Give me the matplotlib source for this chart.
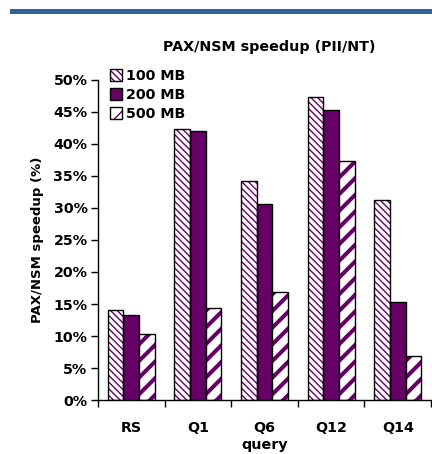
import matplotlib
matplotlib.use("Agg")
import matplotlib.pyplot as plt
import numpy as np
from matplotlib.patches import Rectangle, Patch

plt.rcParams['font.family'] = ['DejaVu Sans']
plt.rcParams['font.weight'] = 'bold'

categories = ["RS", "Q1", "Q6", "Q12", "Q14"]
series_names = ["100 MB", "200 MB", "500 MB"]
v100 = [14.0, 42.3, 34.2, 47.3, 31.3]
v200 = [13.3, 42.0, 30.6, 45.3, 15.3]
v500 = [10.3, 14.4, 16.9, 37.3, 6.9]
yticks = [0, 5, 10, 15, 20, 25, 30, 35, 40, 45, 50]
ytick_labels = [f"{t}%" for t in yticks]

purple = "#660066"
FS = 10.3
H100 = '\\' * 5
H500 = '//'
LW100 = 1.0
LW500 = 2.9

fig = plt.figure(figsize=(4.32, 4.54), dpi=100)
# blue header bar
fig.patches.append(Rectangle((10/432, 1-14/454), 422/432, 5/454, transform=fig.transFigure,
                             facecolor="#2e6699", edgecolor="none"))

ax = fig.add_axes([98/432, 1-400/454, 333/432, 320/454])
x = np.arange(len(categories))
w = 0.235
offsets = [-w, 0, w]
values = [v100, v200, v500]
hatches = [H100, None, H500]
hlw = [LW100, None, LW500]

for i, (vals, off) in enumerate(zip(values, offsets)):
    if hatches[i] is None:
        ax.bar(x + off, vals, w, color=purple, edgecolor='black', linewidth=1.0, zorder=2)
    else:
        with plt.rc_context({'hatch.linewidth': hlw[i]}):
            bars = ax.bar(x + off, vals, w, color='white', edgecolor=purple, hatch=hatches[i],
                          linewidth=0, zorder=2)
            for b in bars:
                if hasattr(b, 'set_hatch_linewidth'):
                    b.set_hatch_linewidth(hlw[i])
        ax.bar(x + off, vals, w, color='none', edgecolor='black', linewidth=1.0, zorder=3)

ax.set_xlim(-0.5, len(categories) - 0.5)
ax.set_ylim(0, 50)
ax.set_yticks(yticks)
ax.set_yticklabels(ytick_labels, fontsize=FS, fontweight='bold')
ax.set_xticks(np.arange(len(categories) + 1) - 0.5)
ax.set_xticklabels([])
ax.set_xticks(x, minor=True)
ax.set_xticklabels(categories, minor=True, fontsize=FS, fontweight='bold')
ax.tick_params(axis='x', which='minor', length=0, pad=15)
ax.tick_params(axis='x', which='major', length=5, width=1, direction='out')
ax.tick_params(axis='y', length=5, width=1, direction='out', pad=2.5)
ax.spines['top'].set_visible(False)
ax.spines['right'].set_visible(False)
ax.spines['left'].set_linewidth(1.0)
ax.spines['bottom'].set_linewidth(1.0)

ax.set_xlabel("query", fontsize=FS, fontweight='bold', labelpad=2)
ax.set_ylabel("PAX/NSM speedup (%)", fontsize=9.5, fontweight='bold', labelpad=7)
fig.text(269/432, 1-47/454, "PAX/NSM speedup (PII/NT)", ha='center', va='center',
         fontsize=FS, fontweight='bold')

with plt.rc_context({'hatch.linewidth': LW100}):
    h1 = Patch(facecolor='white', edgecolor=purple, hatch=H100, linewidth=0)
    if hasattr(h1, 'set_hatch_linewidth'):
        h1.set_hatch_linewidth(LW100)
with plt.rc_context({'hatch.linewidth': LW500}):
    h3 = Patch(facecolor='white', edgecolor=purple, hatch=H500, linewidth=0)
    if hasattr(h3, 'set_hatch_linewidth'):
        h3.set_hatch_linewidth(LW500)
border = Patch(facecolor='none', edgecolor='black', linewidth=1.0)
h2 = Patch(facecolor=purple, edgecolor='black', linewidth=1.0)
leg = ax.legend([(h1, border), h2, (h3, border)], series_names, loc='upper left',
                bbox_to_anchor=(0.037, 1.035),
                frameon=False, fontsize=FS, handlelength=0.85, handleheight=0.85,
                handletextpad=0.25, labelspacing=0.35, borderaxespad=0, borderpad=0)
for t in leg.get_texts():
    t.set_fontweight('bold')

fig.savefig("out.png", dpi=100)
